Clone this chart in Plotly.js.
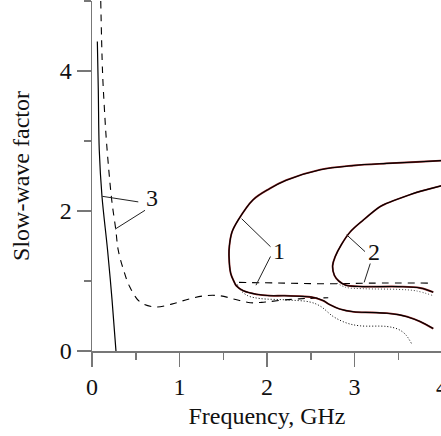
<!DOCTYPE html>
<html>
<head>
<meta charset="utf-8">
<script src="https://cdn.plot.ly/plotly-3.0.1.min.js"></script>
<style>
html,body{margin:0;padding:0;overflow:hidden;background:#fff;width:441px;height:436px;}
#chart{width:462px;height:436px;}
</style>
</head>
<body>
<div id="chart"></div>
<script>
// Curve 3 (solid)
const c3SolidX = [0.061, 0.072, 0.083, 0.114, 0.178, 0.229, 0.274];
const c3SolidY = [4.42, 3.73, 2.87, 2.21, 1.44, 0.73, 0.0];
// Curve 3 (dashed)
const c3DashX = [0.10, 0.12, 0.14, 0.168, 0.225, 0.27, 0.30, 0.36, 0.43, 0.55, 0.72, 0.91, 1.10, 1.29, 1.46, 1.63, 1.81, 1.98, 2.2, 2.45, 2.7];
const c3DashY = [5.0, 4.0, 3.5, 2.95, 2.16, 1.75, 1.44, 1.16, 0.92, 0.70, 0.63, 0.67, 0.74, 0.79, 0.79, 0.74, 0.69, 0.70, 0.73, 0.75, 0.76];
// Curve 1 (solid)
const c1X = [3.99, 3.7, 3.37, 2.99, 2.61, 2.22, 2.03, 1.84, 1.67, 1.60, 1.57, 1.566, 1.585, 1.62, 1.65, 1.73, 1.88, 2.03, 2.2, 2.41, 2.55, 2.64, 2.72, 2.83, 2.99, 3.2, 3.37, 3.5, 3.6, 3.75, 3.90];
const c1Y = [2.72, 2.70, 2.68, 2.65, 2.59, 2.44, 2.32, 2.16, 1.87, 1.70, 1.50, 1.35, 1.11, 1.00, 0.93, 0.86, 0.81, 0.79, 0.79, 0.78, 0.76, 0.72, 0.66, 0.60, 0.56, 0.55, 0.54, 0.52, 0.49, 0.42, 0.32];
// Curve 1 (dotted)
const c1DotX = [1.66, 1.69, 1.78, 1.92, 2.22, 2.49, 2.61, 2.76, 2.91, 3.06, 3.37, 3.5, 3.58, 3.65];
const c1DotY = [0.95, 0.88, 0.79, 0.75, 0.73, 0.70, 0.64, 0.49, 0.40, 0.36, 0.35, 0.31, 0.24, 0.11];
// Curve 2 (solid)
const c2X = [3.99, 3.75, 3.56, 3.37, 3.29, 3.1, 2.95, 2.85, 2.78, 2.75, 2.77, 2.82, 2.9, 3.1, 3.5, 3.75, 3.9];
const c2Y = [2.36, 2.28, 2.20, 2.11, 2.06, 1.87, 1.70, 1.52, 1.35, 1.22, 1.08, 1.00, 0.94, 0.92, 0.92, 0.90, 0.84];
// Curve 2 (dotted)
const c2DotX = [2.8, 2.9, 3.1, 3.5, 3.7, 3.9];
const c2DotY = [0.97, 0.91, 0.89, 0.88, 0.86, 0.79];
// Dashed (curves 1 & 2)
const c12DashX = [1.68, 2.2, 2.7, 3.2, 3.86];
const c12DashY = [0.98, 0.97, 0.96, 0.97, 0.97];

const labels = ['1', '2', '3'];

const serif = 'Liberation Serif, Times New Roman, serif';
const axisGray = '#777';
const FS = 24;

const traces = [
  {x: c3SolidX, y: c3SolidY, mode: 'lines', line: {color: '#000', width: 1.2, shape: 'spline'}},
  {x: c3DashX, y: c3DashY, mode: 'lines', line: {color: '#000', width: 1.1, dash: '7px,6px', shape: 'spline'}},
  {x: c12DashX, y: c12DashY, mode: 'lines', line: {color: '#000', width: 1.1, dash: '7px,6px', shape: 'spline'}},
  {x: c1DotX, y: c1DotY, mode: 'lines', line: {color: '#000', width: 1, dash: '1px,2px', shape: 'spline'}},
  {x: c2DotX, y: c2DotY, mode: 'lines', line: {color: '#444', width: 1, dash: '1px,2px', shape: 'spline'}},
  {x: c1X, y: c1Y, mode: 'lines', line: {color: '#8a2020', width: 1.8, shape: 'spline'}},
  {x: c1X, y: c1Y, mode: 'lines', line: {color: '#000', width: 1.1, shape: 'spline'}},
  {x: c2X, y: c2Y, mode: 'lines', line: {color: '#8a2020', width: 1.8, shape: 'spline'}},
  {x: c2X, y: c2Y, mode: 'lines', line: {color: '#000', width: 1.1, shape: 'spline'}}
];

const leader = (x0, y0, x1, y1) => ({type: 'line', xref: 'x', yref: 'y', x0, y0, x1, y1, line: {color: '#222', width: 1}});

const layout = {
  width: 462, height: 436,
  margin: {l: 92, r: 20, t: 1, b: 85},
  paper_bgcolor: '#fff', plot_bgcolor: '#fff',
  showlegend: false,
  font: {family: serif, color: '#111', size: FS},
  xaxis: {
    range: [0, 4], showgrid: false, zeroline: false,
    showline: true, linecolor: axisGray, linewidth: 1.5,
    ticks: 'outside', ticklen: 14, tickwidth: 1.5, tickcolor: axisGray,
    dtick: 1, tick0: 0,
    minor: {dtick: 0.5, ticks: 'outside', ticklen: 7, tickwidth: 1.5, tickcolor: axisGray, showgrid: false},
    tickfont: {family: serif, size: FS, color: '#111'},
    title: {text: 'Frequency, GHz', font: {family: serif, size: FS, color: '#111'}, standoff: 8}
  },
  yaxis: {
    range: [0, 5], showgrid: false, zeroline: false,
    showline: true, linecolor: axisGray, linewidth: 1.5,
    ticks: 'outside', ticklen: 14, tickwidth: 1.5, tickcolor: axisGray,
    dtick: 2, tick0: 0,
    minor: {dtick: 1, ticks: 'outside', ticklen: 7, tickwidth: 1.5, tickcolor: axisGray, showgrid: false},
    tickfont: {family: serif, size: FS, color: '#111'},
    title: {text: 'Slow-wave factor', font: {family: serif, size: FS, color: '#111'}, standoff: 23}
  },
  shapes: [
    leader(0.117, 2.21, 0.529, 2.13),
    leader(0.263, 1.74, 0.606, 2.01),
    leader(1.71, 1.89, 2.04, 1.49),
    leader(2.04, 1.35, 1.874, 0.94),
    leader(2.91, 1.66, 3.12, 1.42),
    leader(3.18, 1.25, 3.11, 0.98)
  ],
  annotations: [
    {x: 2.137, y: 1.43, text: labels[0], showarrow: false, font: {family: serif, size: FS, color: '#111'}},
    {x: 3.22, y: 1.41, text: labels[1], showarrow: false, font: {family: serif, size: FS, color: '#111'}},
    {x: 0.682, y: 2.19, text: labels[2], showarrow: false, font: {family: serif, size: FS, color: '#111'}}
  ]
};

Plotly.newPlot('chart', traces, layout, {displayModeBar: false, staticPlot: true});
</script>
</body>
</html>
